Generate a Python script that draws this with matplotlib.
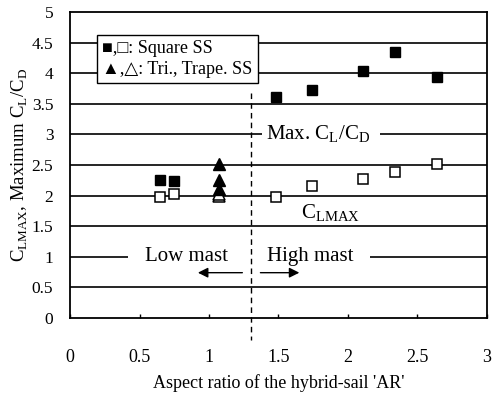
import numpy as np
import matplotlib
matplotlib.use("Agg")
import matplotlib.pyplot as plt

plt.rcParams['font.family'] = ['Liberation Serif', 'DejaVu Sans']
plt.rcParams['mathtext.fontset'] = 'custom'
plt.rcParams['mathtext.rm'] = 'Liberation Serif'

# Square sail: aspect ratio, max L/D and CLmax
sq_ar = [0.65, 0.75, 1.48, 1.74, 2.11, 2.34, 2.64]
sq_ld = [2.26, 2.24, 3.61, 3.72, 4.04, 4.34, 3.94]
sq_cl = [1.97, 2.02, 1.98, 2.15, 2.27, 2.38, 2.51]

# Triangular / trapezoidal sails
tri_ar_ld = [1.07, 1.07, 1.07]
tri_ld = [2.52, 2.25, 2.10]
tri_ar_cl = [1.07, 1.07]
tri_cl = [2.00, 2.03]

x_ticks = [0, 0.5, 1, 1.5, 2, 2.5, 3]
y_ticks = [0, 0.5, 1, 1.5, 2, 2.5, 3, 3.5, 4, 4.5, 5]
mast_split = 1.3

fig = plt.figure(figsize=(4.92, 3.95), dpi=100)
ax = fig.add_axes([0.1423, 0.195, 0.8475, 0.7747])

ax.set_xlim(0, 3)
ax.set_ylim(0, 5)
ax.set_xticks(x_ticks)
ax.set_yticks(y_ticks)
ax.set_xticklabels(['0', '0.5', '1', '1.5', '2', '2.5', '3'])
ax.set_yticklabels(['0', '0.5', '1', '1.5', '2', '2.5', '3', '3.5', '4', '4.5', '5'])
ax.tick_params(axis='x', direction='in', length=3, width=1, pad=22, labelsize=13)
ax.tick_params(axis='y', length=0, pad=12, labelsize=12.5)
for s in ax.spines.values():
    s.set_linewidth(1.3)

# horizontal grid, broken where the curve labels sit
for y in [0.5, 1.5, 2, 2.5, 3.5, 4, 4.5]:
    ax.axhline(y, color='black', lw=1.2, zorder=1)
ax.hlines(3, 0, 1.38, color='black', lw=1.2, zorder=1)
ax.hlines(3, 2.23, 3, color='black', lw=1.2, zorder=1)
ax.hlines(1, 0, 0.42, color='black', lw=1.2, zorder=1)
ax.hlines(1, 2.16, 3, color='black', lw=1.2, zorder=1)

# markers
ax.plot(sq_ar, sq_ld, 's', ms=7.5, mfc='black', mec='black', zorder=5)
ax.plot(sq_ar, sq_cl, 's', ms=7.5, mfc='white', mec='black', mew=1.1, zorder=5)
ax.plot(tri_ar_cl, tri_cl, '^', ms=8, mfc='white', mec='black', mew=1.1, zorder=5)
ax.plot(tri_ar_ld, tri_ld, '^', ms=8, mfc='black', mec='black', zorder=6)

# low / high mast divider
ax.plot([mast_split, mast_split], [3.68, -0.36], color='black', lw=1,
        ls=(0, (4, 3)), clip_on=False, zorder=2)

ax.text(1.41, 3.0, r'Max. C$_\mathrm{L}$/C$_\mathrm{D}$', fontsize=15,
        va='center', ha='left', zorder=3)
ax.text(1.66, 1.72, r'C$_\mathrm{LMAX}$', fontsize=15, va='center', ha='left', zorder=3)
ax.text(0.54, 1.0, 'Low mast', fontsize=15, va='center', ha='left', zorder=3)
ax.text(1.42, 1.0, 'High mast', fontsize=15, va='center', ha='left', zorder=3)
ax.annotate('', xy=(0.9, 0.74), xytext=(1.26, 0.74),
            arrowprops=dict(arrowstyle='-|>', color='black', lw=1, mutation_scale=15))
ax.annotate('', xy=(1.67, 0.74), xytext=(1.35, 0.74),
            arrowprops=dict(arrowstyle='-|>', color='black', lw=1, mutation_scale=15))

# legend box
ax.text(0.23, 4.23, '■,□: Square SS\n▲,△: Tri., Trape. SS', fontsize=13,
        va='center', ha='left', linespacing=1.25,
        family=['Liberation Serif', 'DejaVu Sans'],
        bbox=dict(boxstyle='square,pad=0.3', facecolor='white', edgecolor='black', lw=1),
        zorder=4)

ax.set_xlabel("Aspect ratio of the hybrid-sail 'AR'", fontsize=13, labelpad=6)
ax.set_ylabel(r'C$_\mathrm{LMAX}$, Maximum C$_\mathrm{L}$/C$_\mathrm{D}$', fontsize=13.5, labelpad=1)

fig.savefig('out.png', dpi=100)
